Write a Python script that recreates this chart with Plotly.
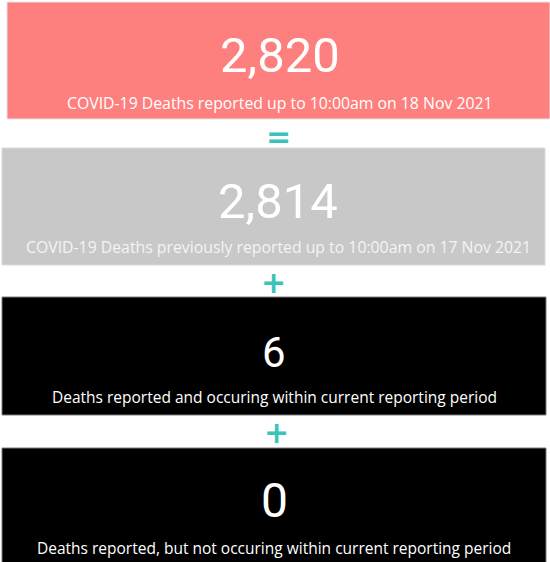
import plotly.graph_objects as go

# ---- data ----
card_values = [2820, 2814, 6, 0]
card_labels = [
    "COVID-19 Deaths reported up to 10:00am on 18 Nov 2021",
    "COVID-19 Deaths previously reported up to 10:00am on 17 Nov 2021",
    "Deaths reported and occuring within current reporting period",
    "Deaths reported, but not occuring within current reporting period",
]
operators = ["=", "+", "+"]

# ---- layout / style (pixel space) ----
W, H = 550, 562
cards = [  # x0, x1, y0, y1
    (7, 550, 2, 119),
    (2, 545, 148, 265),
    (2, 546, 297, 415),
    (2, 546, 448, 575),
]
content_x = [280, 278, 274, 274]
card_fill = ["#FE807E", "#C8C8C8", "#000000", "#000000"]
card_line = ["#E4E4E4", "#DADADA", "#7A7A7A", "#7A7A7A"]
num_color = ["#FFFFFF", "#FFFFFF", "#FFFFFF", "#FFFFFF"]
lab_color = ["#FFFFFF", "#F4F4F4", "#FFFFFF", "#FFFFFF"]
num_y = [55, 201, 352, 500]
num_size = [49, 49, 42, 48]
lab_y = [103, 247, 397, 548]
lab_size = [15.8, 15.8, 15.5, 15.5]
op_pos = [(278, 136), (273, 282), (276, 432)]
TEAL = "#3CC3B7"

fig = go.Figure()
fig.add_trace(go.Scatter(x=[0, W], y=[0, H], mode="markers",
                         marker=dict(opacity=0), hoverinfo="skip", showlegend=False))

shapes = []
ann = []
for i, (x0, x1, y0, y1) in enumerate(cards):
    shapes.append(dict(type="rect", xref="x", yref="y", x0=x0, x1=x1, y0=y0, y1=y1,
                       fillcolor=card_fill[i], line=dict(color=card_line[i], width=1),
                       layer="below"))
    cx = content_x[i]
    ann.append(dict(x=cx, y=num_y[i], xref="x", yref="y", text=f"{card_values[i]:,}",
                    showarrow=False, xanchor="center", yanchor="middle",
                    font=dict(family="Roboto", size=num_size[i], color=num_color[i])))
    ann.append(dict(x=cx, y=lab_y[i], xref="x", yref="y", text=card_labels[i],
                    showarrow=False, xanchor="center", yanchor="middle",
                    font=dict(family="Open Sans", size=lab_size[i], color=lab_color[i])))

for op, (ox, oy) in zip(operators, op_pos):
    ann.append(dict(x=ox, y=oy, xref="x", yref="y", text=f"<b>{op}</b>",
                    showarrow=False, xanchor="center", yanchor="middle",
                    font=dict(family="DejaVu Sans", size=30, color=TEAL)))

fig.update_layout(
    width=W, height=H,
    margin=dict(l=0, r=0, t=0, b=0),
    paper_bgcolor="white", plot_bgcolor="white",
    xaxis=dict(range=[0, W], visible=False, fixedrange=True),
    yaxis=dict(range=[H, 0], visible=False, fixedrange=True),
    shapes=shapes, annotations=ann, showlegend=False,
)
fig.write_html("out.html", config={"displayModeBar": False},
               post_script="document.body.style.margin='0';")
